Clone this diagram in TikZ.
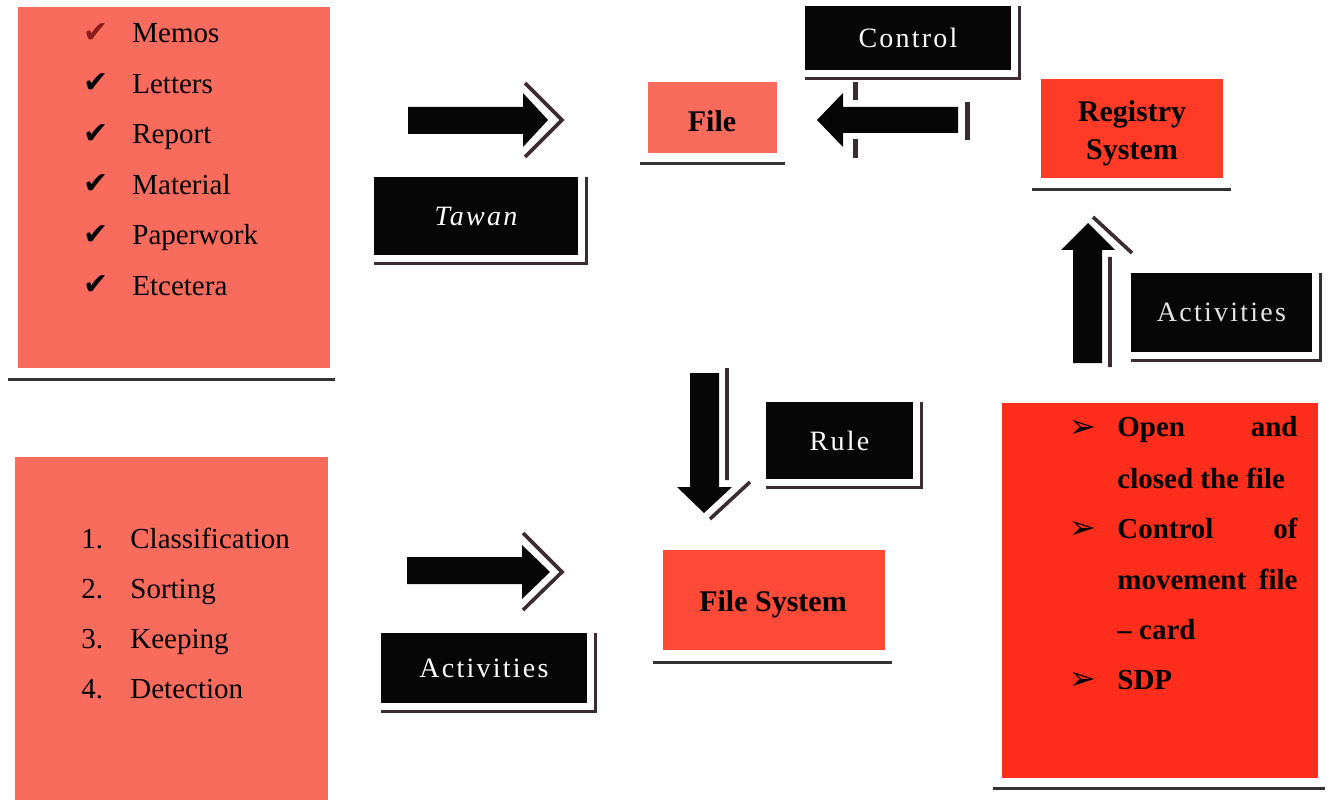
\documentclass[tikz,border=0pt]{standalone}
\usepackage{fontspec}
\setmainfont{Liberation Serif}
\newfontfamily\symfont{DejaVu Sans}
\newfontfamily\boxfont[LetterSpace=8]{Liberation Serif}
\definecolor{salmon}{HTML}{F96B5C}
\definecolor{regred}{HTML}{FF3B28}
\definecolor{fsred}{HTML}{FF4A38}
\definecolor{taskred}{HTML}{FF2D1C}
\definecolor{boxblack}{HTML}{060606}
\definecolor{shadowgrey}{HTML}{3A2C30}
\definecolor{rulegrey}{HTML}{333333}
\definecolor{checkred}{HTML}{8B1C1C}

\begin{document}
\begin{tikzpicture}[x=0.5pt, y=-0.5pt,
redbox/.style = {fill=#1, inner sep=0pt},
blackbox/.style = {fill=boxblack, text=white, inner sep=0pt,
  font=\boxfont\fontsize{14}{16}\selectfont},
boxtext/.style = {inner sep=0pt, align=center, font=\bfseries\fontsize{15}{19}\selectfont},
underrule/.style = {draw=rulegrey, line width=1.5pt},
shadowline/.style = {draw=shadowgrey, line width=1.8pt},
listitem/.style = {anchor=base west, inner sep=0pt,
  font=\fontsize{14.5}{17}\selectfont},
taskitem/.style = {inner sep=0pt, font=\bfseries\fontsize{14.5}{17}\selectfont},
mark/.style = {inner sep=0pt, font=\symfont\fontsize{#1}{16}\selectfont}]
\useasboundingbox (0,0) rectangle (1330,808);

\node[redbox=salmon, minimum width=156pt, minimum height=180.5pt] (items) at (174,187.5) {};
\node[redbox=salmon, minimum width=156.5pt, minimum height=171.5pt] (steps) at (171.5,628.5) {};
\node[redbox=salmon, minimum width=64.5pt, minimum height=35.5pt] (file) at (712.5,117.5) {};
\node[redbox=regred, minimum width=91pt, minimum height=49.5pt] (registry) at (1132,128.5) {};
\node[redbox=fsred, minimum width=111pt, minimum height=50pt] (filesys) at (774,600) {};
\node[redbox=taskred, minimum width=158pt, minimum height=187.5pt] (tasks) at (1160,590.5) {};

\node[boxtext] (filetext) at (712,121) {File};
\node[boxtext] (registrytext) at (1132,133) {Registry\\System};
\node[boxtext] (filesystext) at (773,604) {File System};

\draw[underrule] ([xshift=-5pt,yshift=-5.5pt]items.south west) -- ([xshift=2.5pt,yshift=-5.5pt]items.south east);
\draw[underrule] ([xshift=-4pt,yshift=-5pt]file.south west) -- ([xshift=4pt,yshift=-5pt]file.south east);
\draw[underrule] ([xshift=-4.5pt,yshift=-5.5pt]registry.south west) -- ([xshift=4pt,yshift=-5.5pt]registry.south east);
\draw[underrule] ([xshift=-5pt,yshift=-6pt]filesys.south west) -- ([xshift=3.5pt,yshift=-6pt]filesys.south east);
\draw[underrule] ([xshift=-4.5pt,yshift=-5pt]tasks.south west) -- ([xshift=3.5pt,yshift=-5pt]tasks.south east);

\foreach \w/\c [count=\i] in {Memos/checkred, Letters/black, Report/black,
    Material/black, Paperwork/black, Etcetera/black} {
  \node[mark=15, text=\c] (tick\i) at (96,{33+50.4*(\i-1)}) {✔};
  \node[listitem] (item\i) at (132,{43+50.4*(\i-1)}) {\w};
}
\foreach \w [count=\i] in {Classification, Sorting, Keeping, Detection} {
  \node[listitem] (num\i) at (81,{548+50.3*(\i-1)}) {\i.};
  \node[listitem] (step\i) at (130,{548+50.3*(\i-1)}) {\w};
}

\foreach \y [count=\i] in {429, 530, 681}
  \node[mark=16] (bullet\i) at (1083,\y) {➢};
\node[taskitem, anchor=base west] (open) at (1117,437) {Open};
\node[taskitem, anchor=base east] (and) at (1298,437) {and};
\node[taskitem, anchor=base west] (closed) at (1117,488) {closed the file};
\node[taskitem, anchor=base west] (control2) at (1117,538) {Control};
\node[taskitem, anchor=base east] (of) at (1298,538) {of};
\node[taskitem, anchor=base west] (movement) at (1117,589) {movement};
\node[taskitem, anchor=base east] (movefile) at (1298,589) {file};
\node[taskitem, anchor=base west] (card) at (1117,639) {– card};
\node[taskitem, anchor=base west] (sdp) at (1117,689) {SDP};

\node[blackbox, minimum width=102pt, minimum height=39pt] (tawan) at (476,216) {\itshape Tawan};
\node[blackbox, minimum width=103pt, minimum height=32pt] (control) at (908,38) {Control};
\node[blackbox, minimum width=73.5pt, minimum height=38.5pt] (rule) at (839.5,440.5) {Rule};
\node[blackbox, minimum width=103pt, minimum height=35pt] (actleft) at (484,668) {Activities};
\node[blackbox, minimum width=90.5pt, minimum height=39.5pt, text=white!78!gray] (actright) at (1221.5,312.5) {Activities};

\foreach \b in {tawan, control, rule, actleft, actright}
  \draw[shadowline] ([xshift=4pt]\b.north east) |- ([yshift=-4pt]\b.south west);

\fill[boxblack] (408,107) -- (523,107) -- (523,93) -- (548,120) -- (523,147) -- (523,134) -- (408,134) -- cycle;
\draw[shadowline] (525,83) -- (562,120) -- (525,157);

\fill[boxblack] (407,557) -- (522,557) -- (522,545) -- (550,572) -- (522,599) -- (522,584) -- (407,584) -- cycle;
\draw[shadowline] (523,533) -- (562,572) -- (523,610);

\fill[boxblack] (958,107) -- (843,107) -- (843,93) -- (817,120) -- (843,147) -- (843,133) -- (958,133) -- cycle;
\draw[shadowline, line width=2.5pt] (855,82) -- (855,100) (855,139) -- (855,158) (967,102) -- (967,140);

\fill[boxblack] (1073,363) -- (1073,250) -- (1061,250) -- (1088,223) -- (1115,250) -- (1102,250) -- (1102,363) -- cycle;
\draw[shadowline] (1093,217) -- (1132,253) (1110,257) -- (1110,367);

\fill[boxblack] (690,373) -- (690,487) -- (677,487) -- (704,513) -- (732,487) -- (719,487) -- (719,373) -- cycle;
\draw[shadowline] (727,368) -- (727,480) (750,482) -- (710,519);
\end{tikzpicture}
\end{document}
